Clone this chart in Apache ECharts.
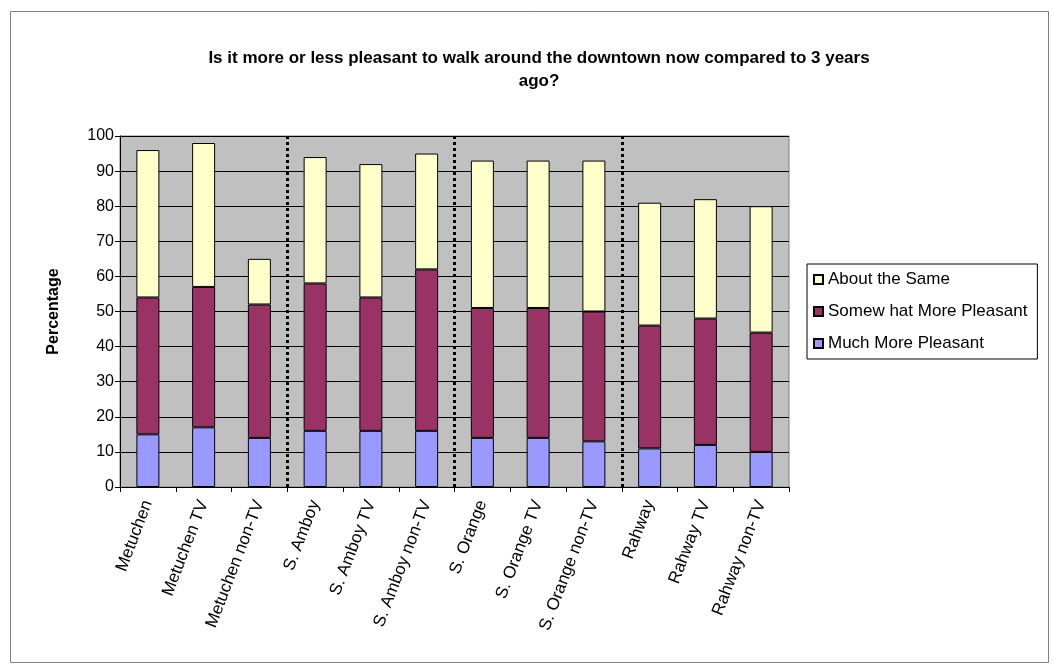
<!DOCTYPE html>
<html>
<head>
<meta charset="utf-8">
<script src="https://cdn.jsdelivr.net/npm/echarts@6/dist/echarts.min.js"></script>
<style>
html,body{margin:0;padding:0;background:#fff;}
#chart{width:1054px;height:668px;}
</style>
</head>
<body>
<div id="chart"></div>
<script>
var categories = ['Metuchen','Metuchen TV','Metuchen non-TV','S. Amboy','S. Amboy TV','S. Amboy non-TV','S. Orange','S. Orange TV','S. Orange non-TV','Rahway','Rahway TV','Rahway non-TV'];
var muchMore = [15,17,14,16,16,16,14,14,13,11,12,10];
var somewhatMore = [39,40,38,42,38,46,37,37,37,35,36,34];
var aboutSame = [42,41,13,36,38,33,42,42,43,35,34,36];
var yTicks = [0,10,20,30,40,50,60,70,80,90,100];
var groupBoundaries = [3,6,9];
var seriesNames = ['Much More Pleasant','Somew hat More Pleasant','About the Same'];

var font = 'Liberation Sans, Arial, sans-serif';
var chart = echarts.init(document.getElementById('chart'), null, {renderer:'canvas'});
var border = {borderColor:'#000', borderWidth:1};

var option = {
  backgroundColor:'#fff',
  animation:false,
  graphic:[{
    type:'rect', left:8, top:9, silent:true, z:-10,
    shape:{width:1038, height:651},
    style:{fill:'none', stroke:'#808080', lineWidth:1}
  }],
  title:{
    text:'Is it more or less pleasant to walk around the downtown now compared to 3 years\nago?',
    left:534, top:42, textAlign:'center',
    textStyle:{fontFamily:font, fontSize:17, fontWeight:'bold', color:'#000', lineHeight:23}
  },
  legend:{
    orient:'vertical', left:807, top:264,
    data:[seriesNames[2], seriesNames[1], seriesNames[0]],
    icon:'rect', itemWidth:9, itemHeight:9, itemGap:15,
    padding:[7,10,7,6],
    borderColor:'#000', borderWidth:1,
    textStyle:{fontFamily:font, fontSize:17, color:'#000'}
  },
  grid:{left:120, right:265, top:136, bottom:181, show:true, backgroundColor:'#C0C0C0', borderColor:'#808080', borderWidth:1},
  xAxis:[{
    type:'category', data:categories, boundaryGap:true,
    axisLine:{lineStyle:{color:'#000'}},
    axisTick:{show:true, alignWithLabel:false, length:5, lineStyle:{color:'#000'}},
    axisLabel:{rotate:69, fontFamily:font, fontSize:17, color:'#000', interval:0, margin:14}
  },{
    type:'value', min:0, max:categories.length, show:false
  }],
  yAxis:{
    type:'value', min:yTicks[0], max:yTicks[yTicks.length-1], interval:yTicks[1]-yTicks[0],
    name:'Percentage', nameLocation:'middle', nameGap:58, nameRotate:90,
    nameTextStyle:{fontFamily:font, fontSize:16, fontWeight:'bold', color:'#000'},
    axisLine:{show:true, lineStyle:{color:'#000'}},
    axisTick:{show:true, length:5, lineStyle:{color:'#000'}},
    axisLabel:{fontFamily:font, fontSize:16, color:'#000', margin:6},
    splitLine:{show:true, lineStyle:{color:'#000', width:1}}
  },
  series:[
    {name:seriesNames[0], type:'bar', stack:'s', data:muchMore, barWidth:23, itemStyle:Object.assign({color:'#9999FF'}, border)},
    {name:seriesNames[1], type:'bar', stack:'s', data:somewhatMore, barWidth:23, itemStyle:Object.assign({color:'#993366'}, border)},
    {name:seriesNames[2], type:'bar', stack:'s', data:aboutSame, barWidth:23, itemStyle:Object.assign({color:'#FFFFCC'}, border)},
    {name:'sep', type:'line', xAxisIndex:1, data:[], silent:true, z:5,
      markLine:{silent:true, symbol:['none','none'], label:{show:false},
        lineStyle:{color:'#000', width:3, type:[3,3]},
        emphasis:{disabled:true},
        data:groupBoundaries.map(function(v){return {xAxis:v};})}
    }
  ]
};
chart.setOption(option);
</script>
</body>
</html>
